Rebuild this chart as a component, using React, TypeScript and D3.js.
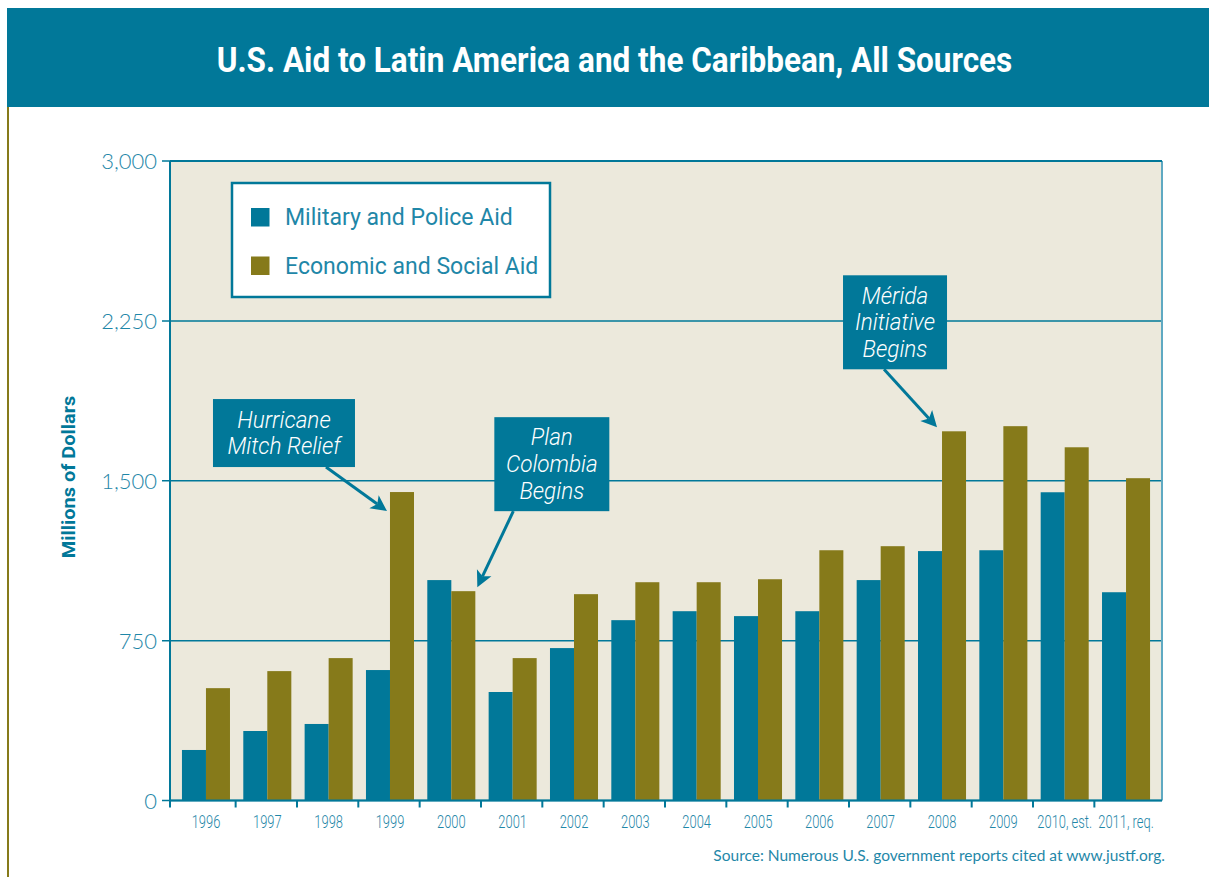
import React from "react";
import * as d3 from "d3";

const years = ["1996","1997","1998","1999","2000","2001","2002","2003","2004","2005","2006","2007","2008","2009","2010, est.","2011, req."];
const military = [237,326,359,612,1034,509,715,846,888,865,888,1034,1170,1174,1446,977];
const economic = [527,607,668,1447,982,668,968,1024,1024,1038,1174,1193,1732,1756,1657,1512];
const seriesNames = ["Military and Police Aid","Economic and Social Aid"];
const yTicks = [0,750,1500,2250,3000];
const title = "U.S. Aid to Latin America and the Caribbean, All Sources";
const yTitle = "Millions of Dollars";
const source = "Source: Numerous U.S. government reports cited at www.justf.org.";
const annotations = [
  { year: "1999", series: 1, lines: ["Hurricane", "Mitch Relief"] },
  { year: "2000", series: 1, lines: ["Plan", "Colombia", "Begins"] },
  { year: "2008", series: 1, lines: ["Mérida", "Initiative", "Begins"] },
];

const TEAL = "#017899";
const OLIVE = "#867a1a";
const BG = "#ece9dc";
const LABEL = "#1f87a8";

// layout of annotation boxes relative to arrow tip (which follows the data)
const annLayout = [
  { tipDx: -3, tipDy: 19, edge: "left", box: { dx: -174, dy: -112, w: 142, h: 68 }, start: { dx: -61, dy: -44 } },
  { tipDx: 2, tipDy: -4, edge: "right", box: { dx: 17, dy: -170, w: 115, h: 94 }, start: { dx: 36, dy: -76 } },
  { tipDx: -5, tipDy: -4, edge: "left", box: { dx: -94, dy: -152, w: 104, h: 94 }, start: { dx: -53, dy: -58 } },
];

export default function App() {
  const W = 1209, H = 877;
  const left = 170, right = 1162, top = 161, bottom = 800.5;
  const x = d3.scaleBand<string>().domain(years).range([175.3, 1156.7]).paddingInner(0.217).paddingOuter(0.1085);
  const xs = d3.scaleBand<number>().domain([0, 1]).range([0, x.bandwidth()]);
  const y = d3.scaleLinear().domain([0, 3000]).range([bottom, top]);
  const series = [military, economic];
  const colors = [TEAL, OLIVE];
  const step = x.step();
  const gap = step - x.bandwidth();

  const arrow = (x1: number, y1: number, x2: number, y2: number, key: string) => {
    const ang = Math.atan2(y2 - y1, x2 - x1);
    const L = 16, Wd = 8;
    const bx = x2 - L * Math.cos(ang), by = y2 - L * Math.sin(ang);
    const px = -Math.sin(ang) * Wd, py = Math.cos(ang) * Wd;
    const nx = x2 - (L - 4) * Math.cos(ang), ny = y2 - (L - 4) * Math.sin(ang);
    return (
      <g key={key}>
        <line x1={x1} y1={y1} x2={nx} y2={ny} stroke={TEAL} strokeWidth={3} />
        <polygon points={`${x2},${y2} ${bx + px},${by + py} ${nx},${ny} ${bx - px},${by - py}`} fill={TEAL} />
      </g>
    );
  };

  return (
    <svg width={W} height={H} style={{ position: "absolute", left: 0, top: 0, background: "#fff" }} fontFamily="Roboto, 'Liberation Sans', sans-serif">
      {/* title bar */}
      <rect x={7} y={8} width={W - 7} height={99} fill={TEAL} />
      <text transform={`translate(614.5,72) scale(0.9,1)`} textAnchor="middle" fill="#fff" fontSize={35} fontWeight={700}>{title}</text>
      <rect x={7} y={107} width={2} height={H - 107} fill={OLIVE} />

      {/* plot background */}
      <rect x={left} y={top} width={right - left} height={bottom - top} fill={BG} />
      {/* gridlines */}
      {yTicks.map(t => (
        <g key={t}>
          <line x1={left - 8} x2={right} y1={y(t)} y2={y(t)} stroke={TEAL} strokeWidth={1.5} />
          <text x={157} y={y(t) + 8} textAnchor="end" fill={LABEL} fontSize={22} fontFamily="Lato, sans-serif" fontWeight={300}>{d3.format(",")(t)}</text>
        </g>
      ))}
      {/* bars */}
      {years.map((yr, i) => (
        <g key={yr}>
          {series.map((s, j) => (
            <rect key={j} x={(x(yr) as number) + (xs(j) as number)} y={y(s[i])} width={xs.bandwidth()} height={bottom - y(s[i])} fill={colors[j]} />
          ))}
        </g>
      ))}
      {/* frame */}
      <line x1={left} x2={left} y1={top} y2={bottom} stroke={TEAL} strokeWidth={2} />
      <line x1={right} x2={right} y1={top} y2={bottom} stroke="#5fa9c2" strokeWidth={2} />
      <line x1={left} x2={right} y1={top} y2={top} stroke={TEAL} strokeWidth={2} />
      <line x1={left} x2={right} y1={bottom} y2={bottom} stroke={TEAL} strokeWidth={2} />
      {/* x ticks */}
      <line x1={left} x2={left} y1={bottom} y2={bottom + 7} stroke={TEAL} strokeWidth={2} />
      {years.slice(1).map(yr => (
        <line key={yr} x1={(x(yr) as number) - gap / 2 - 1} x2={(x(yr) as number) - gap / 2 - 1} y1={bottom} y2={bottom + 7} stroke={TEAL} strokeWidth={2} />
      ))}
      {years.map(yr => (
        <text key={yr} transform={`translate(${(x(yr) as number) + x.bandwidth() / 2},828) scale(0.68,1)`} textAnchor="middle" fill={LABEL} fontSize={19} fontWeight={300}>{yr}</text>
      ))}

      {/* legend */}
      <rect x={232} y={183} width={318} height={114} fill="#fff" stroke={TEAL} strokeWidth={2.5} />
      {seriesNames.map((n, j) => (
        <g key={n}>
          <rect x={251} y={208 + j * 48.5} width={18.5} height={18.5} fill={colors[j]} />
          <text transform={`translate(285,${225 + j * 49}) scale(0.96,1)`} fill={LABEL} fontSize={24}>{n}</text>
        </g>
      ))}

      {/* annotations */}
      {annotations.map((a, k) => {
        const lay = annLayout[k];
        const bx0 = (x(a.year) as number) + (xs(a.series) as number) + (lay.edge === "right" ? xs.bandwidth() : 0);
        const by0 = y(series[a.series][years.indexOf(a.year)]);
        const tx = bx0 + lay.tipDx, ty = by0 + lay.tipDy;
        const b = lay.box;
        const cx = tx + b.dx + b.w / 2;
        const n = a.lines.length;
        const lh = 26.7;
        const firstBase = ty + b.dy + b.h / 2 - ((n - 1) * lh) / 2 + 8;
        return (
          <g key={a.year}>
            <rect x={tx + b.dx} y={ty + b.dy} width={b.w} height={b.h} fill={TEAL} />
            {a.lines.map((l, li) => (
              <text key={li} transform={`translate(${cx},${firstBase + li * lh}) scale(0.98,1)`} textAnchor="middle" fill="#fff" fontSize={23} fontStyle="italic" fontWeight={300}>{l}</text>
            ))}
            {arrow(tx + lay.start.dx, ty + lay.start.dy, tx, ty, "a" + k)}
          </g>
        );
      })}

      {/* axis title */}
      <text transform={`translate(75,477) rotate(-90) scale(1.05,1)`} textAnchor="middle" fill={TEAL} fontSize={19} fontWeight={700}>{yTitle}</text>
      {/* source */}
      <text x={1165} y={861} textAnchor="end" fill={LABEL} fontSize={15.5} fontFamily="Lato, sans-serif">{source}</text>
    </svg>
  );
}
